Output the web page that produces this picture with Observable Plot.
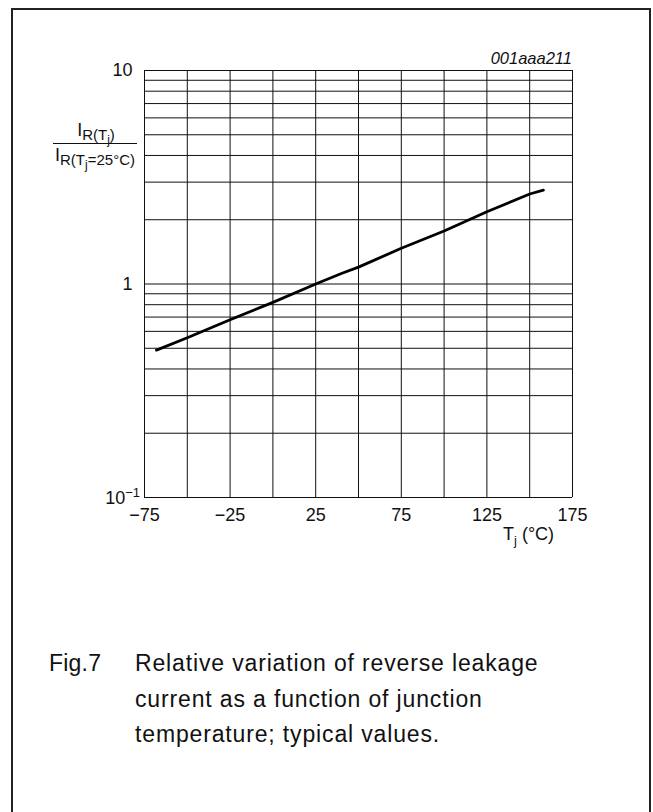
<!DOCTYPE html>
<html>
<head>
<meta charset="utf-8">
<script src="https://cdn.jsdelivr.net/npm/d3@7"></script>
<script src="https://cdn.jsdelivr.net/npm/@observablehq/plot@0.6"></script>
<style>
  html, body { margin: 0; padding: 0; background: #fff; }
  body { width: 653px; height: 812px; position: relative; overflow: hidden; font-family: "Liberation Sans", Arial, sans-serif; }
  #frame { position: absolute; left: 11px; top: 8px; width: 640px; height: 820px; border: 2px solid #222; border-bottom: none; box-sizing: border-box; }
  #chart { position: absolute; left: 0; top: 0; }
  #caption { position: absolute; left: 49px; top: 646px; font-family: "Liberation Sans", Arial, sans-serif; font-size: 23px; line-height: 35.5px; color: #111; letter-spacing: 0.85px; }
  #caption .num { position: absolute; left: 0; top: 0; letter-spacing: 0.2px; }
  #caption .txt { position: absolute; left: 86px; top: 0; width: 520px; white-space: nowrap; }
</style>
</head>
<body>
<div id="frame"></div>
<div id="chart"></div>
<div id="caption"><span class="num">Fig.7</span><div class="txt">Relative variation of reverse leakage<br>current as a function of junction<br>temperature; typical values.</div></div>
<script>
// Data
const temperature = [-68, -50, -25, 0, 25, 40, 50, 75, 100, 125, 150, 158];
const ratio       = [0.49, 0.56, 0.68, 0.82, 1.0, 1.12, 1.2, 1.47, 1.77, 2.18, 2.64, 2.75];
const xTicks = [-75, -25, 25, 75, 125, 175];
const xGrid = [-75, -50, -25, 0, 25, 50, 75, 100, 125, 150, 175];
const yTicks = [1, 10];
const yTickLabels = ["1", "10"];
const yGrid = [0.1, 0.2, 0.3, 0.4, 0.5, 0.6, 0.7, 0.8, 0.9, 1, 2, 3, 4, 5, 6, 7, 8, 9, 10];

const data = temperature.map((t, i) => ({t, r: ratio[i]}));

const W = 653, H = 560;
const chart = Plot.plot({
  width: W,
  height: H,
  marginLeft: 144,
  marginRight: 81,
  marginTop: 70,
  marginBottom: H - 497,
  style: {fontFamily: "'Liberation Sans', Arial, sans-serif", fontSize: "18px", color: "#111", background: "transparent"},
  x: {domain: [-75, 175], ticks: xTicks, tickSize: 0, tickPadding: 11, tickFormat: d => d < 0 ? "\u2212" + Math.abs(d) : String(d), label: null},
  y: {type: "log", domain: [0.1, 10], ticks: yTicks, tickSize: 0, tickPadding: 12, tickFormat: d => yTickLabels[yTicks.indexOf(d)], label: null},
  marks: [
    Plot.ruleX(xGrid, {stroke: "#111", strokeWidth: 1}),
    Plot.ruleY(yGrid, {stroke: "#111", strokeWidth: 1}),
    Plot.line(data, {x: "t", y: "r", stroke: "#000", strokeWidth: 2.8, curve: "linear"})
  ]
});
document.getElementById("chart").appendChild(chart);

const svg = d3.select(chart);
const font = "'Liberation Sans', Arial, sans-serif";
const ys = chart.scale("y");

// 10^-1 tick label placed through the y scale
const yLow = ys.apply(0.1);
const lo = svg.append("text").attr("x", 140).attr("y", yLow + 6.5).attr("text-anchor", "end")
  .attr("font-family", font).attr("font-size", 18).attr("fill", "#111");
lo.append("tspan").text("10");
lo.append("tspan").attr("font-size", 13).attr("dy", -7).text("\u22121");

svg.append("text").attr("x", 572).attr("y", 64).attr("text-anchor", "end")
  .attr("font-family", font).attr("font-size", 16.5).attr("font-style", "italic").attr("fill", "#111").text("001aaa211");

// x-axis label Tj (°C)
const xl = svg.append("text").attr("x", 503).attr("y", 540).attr("text-anchor", "start").attr("font-family", font).attr("font-size", 18).attr("fill", "#111");
xl.append("tspan").text("T");
xl.append("tspan").attr("font-size", 13).attr("dy", 5).text("j");
xl.append("tspan").attr("dy", -5).text(" (\u00B0C)");

// y-axis label fraction
const num = svg.append("text").attr("x", 96).attr("y", 136).attr("text-anchor", "middle").attr("font-family", font).attr("font-size", 18).attr("fill", "#111");
num.append("tspan").text("I");
num.append("tspan").attr("font-size", 15).attr("dy", 4).text("R(T");
num.append("tspan").attr("font-size", 12).attr("dy", 4).text("j");
num.append("tspan").attr("font-size", 15).attr("dy", -4).text(")");
svg.append("line").attr("x1", 53).attr("x2", 137).attr("y1", 143.5).attr("y2", 143.5).attr("stroke", "#111").attr("stroke-width", 1);
const den = svg.append("text").attr("x", 95).attr("y", 161).attr("text-anchor", "middle").attr("font-family", font).attr("font-size", 18).attr("fill", "#111");
den.append("tspan").text("I");
den.append("tspan").attr("font-size", 15).attr("dy", 4).text("R(T");
den.append("tspan").attr("font-size", 12).attr("dy", 4).text("j");
den.append("tspan").attr("font-size", 15).attr("dy", -4).text("=25\u00B0C)");
</script>
</body>
</html>
